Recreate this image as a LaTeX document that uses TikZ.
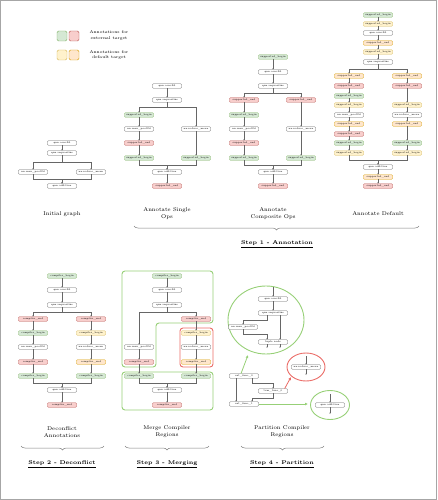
\documentclass[tikz,border=0pt]{standalone}
\usetikzlibrary{arrows.meta,decorations.pathreplacing,shapes.geometric}
\definecolor{gnf}{HTML}{D5E8D4}\definecolor{gnb}{HTML}{82B366}
\definecolor{rdf}{HTML}{F8CECC}\definecolor{rdb}{HTML}{B85450}
\definecolor{ylf}{HTML}{FFF2CC}\definecolor{ylb}{HTML}{D6B656}
\definecolor{orf}{HTML}{FFE6CC}\definecolor{orb}{HTML}{D79B00}
\definecolor{opb}{HTML}{666666}
\definecolor{rgG}{HTML}{97D077}\definecolor{rgR}{HTML}{EA6B66}
\tikzset{
 op/.style={draw=opb, fill=white, rounded corners=0.8pt, minimum width=29pt, minimum height=4.5pt, inner sep=0pt, line width=0.3pt, font=\fontsize{2.5}{2.7}\selectfont},
 gn/.style={op, draw=gnb, fill=gnf},
 rd/.style={op, draw=rdb, fill=rdf},
 yl/.style={op, draw=ylb, fill=ylf},
 og/.style={op, draw=orb, fill=orf},
 arr/.style={-{Stealth[length=1.4pt,width=1.2pt]}, line width=0.3pt, draw=black!60},
 legbox/.style={minimum width=10pt, minimum height=10pt, inner sep=0pt, rounded corners=1.5pt, line width=0.4pt},
 legtext/.style={align=center, font=\fontsize{4.1}{5.8}\selectfont},
 lab/.style={align=center, font=\fontsize{5.5}{7}\selectfont},
 steplab/.style={font=\fontsize{5.4}{7}\selectfont\bfseries},
 bracestyle/.style={decorate, decoration={brace, mirror, amplitude=4pt}, draw=black!50, line width=0.5pt},
 regG/.style={draw=rgG, line width=0.9pt, rounded corners=3pt},
 regR/.style={draw=rgR, line width=0.9pt, rounded corners=3pt},
 carrG/.style={draw=rgG, line width=0.8pt, -{Latex[length=3pt,width=3pt]}},
 carrR/.style={draw=rgR, line width=0.8pt, -{Latex[length=3pt,width=3pt]}},
}
\begin{document}
\begin{tikzpicture}[x=1pt,y=-1pt]
\useasboundingbox (0,0) rectangle (437,500);
\draw[black!35, line width=0.8pt] (0.4,0.4) rectangle (436.6,499.6);

% legend
\node[legbox, fill=gnf, draw=gnb] (lg1) at (62,36) {};
\node[legbox, fill=rdf, draw=rdb] (lg2) at (74,36) {};
\node[legbox, fill=ylf, draw=ylb] (lg3) at (62,55) {};
\node[legbox, fill=orf, draw=orb] (lg4) at (74,55) {};
\node[legtext] (lt1) at (109,35.5) {Annotations for\\external target};
\node[legtext] (lt2) at (109,55) {Annotations for\\default target};

% ---------- panel 1: initial graph
\node[op] (a1) at (62,143) {qnn.conv2d};
\node[op] (a2) at (62,153) {qnn.requantize};
\node[op] (a3) at (33,172) {nn.max\_pool2d};
\node[op] (a4) at (91,172) {nn.reduce\_mean};
\node[op] (a5) at (62,186) {qnn.addition};
\draw[arr] (a1) -- (a2);
\draw[arr] (a2.south) -- (62,162) -| (a3.north);
\draw[arr] (a2.south) -- (62,162) -| (a4.north);
\draw[arr] (a3.south) |- (62,179) -- (a5.north);
\draw[arr] (a4.south) |- (62,179) -- (a5.north);
\node[lab] (l1) at (62,214) {Initial graph};

% ---------- panel 2: single ops
\node[op] (b1) at (167,86) {qnn.conv2d};
\node[op] (b2) at (167,100) {qnn.requantize};
\node[gn] (b3) at (139,115) {supported\_begin};
\node[op] (b4) at (139,129) {nn.max\_pool2d};
\node[rd] (b5) at (139,143) {supported\_end};
\node[gn] (b6) at (139,158) {supported\_begin};
\node[op] (b7) at (196,129) {nn.reduce\_mean};
\node[gn] (b8) at (196,158) {supported\_begin};
\node[op] (b9) at (167,172) {qnn.addition};
\node[rd] (b10) at (167,186) {supported\_end};
\draw[arr] (b1) -- (b2);
\draw[arr] (b2.south) -- (167,107) -| (b3.north);
\draw[arr] (b2.south) -- (167,107) -| (b7.north);
\draw[arr] (b3) -- (b4);
\draw[arr] (b4) -- (b5);
\draw[arr] (b5) -- (b6);
\draw[arr] (b7) -- (b8);
\draw[arr] (b6.south) |- (167,165) -- (b9.north);
\draw[arr] (b8.south) |- (167,165) -- (b9.north);
\draw[arr] (b9) -- (b10);
\node[lab] (l2) at (167,214) {Annotate Single\\Ops};

% ---------- panel 3: composite ops
\node[gn] (c0) at (273,57) {supported\_begin};
\node[op] (c1) at (273,72) {qnn.conv2d};
\node[op] (c2) at (273,86) {qnn.requantize};
\node[rd] (c3) at (244,100) {supported\_end};
\node[gn] (c4) at (244,115) {supported\_begin};
\node[op] (c5) at (244,129) {nn.max\_pool2d};
\node[rd] (c6) at (244,143) {supported\_end};
\node[gn] (c7) at (244,158) {supported\_begin};
\node[rd] (c8) at (301,100) {supported\_end};
\node[op] (c9) at (301,129) {nn.reduce\_mean};
\node[gn] (c10) at (301,158) {supported\_begin};
\node[op] (c11) at (273,172) {qnn.addition};
\node[rd] (c12) at (273,186) {supported\_end};
\draw[arr] (c0) -- (c1);
\draw[arr] (c1) -- (c2);
\draw[arr] (c2.south) -- (273,93) -| (c3.north);
\draw[arr] (c2.south) -- (273,93) -| (c8.north);
\draw[arr] (c3) -- (c4);
\draw[arr] (c4) -- (c5);
\draw[arr] (c5) -- (c6);
\draw[arr] (c6) -- (c7);
\draw[arr] (c8) -- (c9);
\draw[arr] (c9) -- (c10);
\draw[arr] (c7.south) |- (273,165) -- (c11.north);
\draw[arr] (c10.south) |- (273,165) -- (c11.north);
\draw[arr] (c11) -- (c12);
\node[lab] (l3) at (273,214) {Annotate\\Composite Ops};

% ---------- panel 4: default
\node[gn] (d0) at (378,15) {supported\_begin};
\node[yl] (d1) at (378,24) {supported\_begin};
\node[op] (d2) at (378,33) {qnn.conv2d};
\node[og] (d3) at (378,43) {supported\_end};
\node[yl] (d4) at (378,52) {supported\_begin};
\node[op] (d5) at (378,62) {qnn.requantize};
\node[og] (d6) at (349,76) {supported\_end};
\node[rd] (d7) at (349,86) {supported\_end};
\node[gn] (d8) at (349,96) {supported\_begin};
\node[yl] (d9) at (349,105) {supported\_begin};
\node[op] (d10) at (349,115) {nn.max\_pool2d};
\node[og] (d11) at (349,124) {supported\_end};
\node[rd] (d12) at (349,134) {supported\_end};
\node[gn] (d13) at (349,143) {supported\_begin};
\node[yl] (d14) at (349,153) {supported\_begin};
\node[og] (d15) at (407,76) {supported\_end};
\node[rd] (d16) at (407,86) {supported\_end};
\node[yl] (d17) at (407,105) {supported\_begin};
\node[op] (d18) at (407,115) {nn.reduce\_mean};
\node[og] (d19) at (407,124) {supported\_end};
\node[gn] (d20) at (407,143) {supported\_begin};
\node[yl] (d21) at (407,153) {supported\_begin};
\node[op] (d22) at (378,167) {qnn.addition};
\node[og] (d23) at (378,177) {supported\_end};
\node[rd] (d24) at (378,186) {supported\_end};
\draw[arr] (d0) -- (d1);
\draw[arr] (d1) -- (d2);
\draw[arr] (d2) -- (d3);
\draw[arr] (d3) -- (d4);
\draw[arr] (d4) -- (d5);
\draw[arr] (d5.south) -- (378,69) -| (d6.north);
\draw[arr] (d5.south) -- (378,69) -| (d15.north);
\draw[arr] (d6) -- (d7);
\draw[arr] (d7) -- (d8);
\draw[arr] (d8) -- (d9);
\draw[arr] (d9) -- (d10);
\draw[arr] (d10) -- (d11);
\draw[arr] (d11) -- (d12);
\draw[arr] (d12) -- (d13);
\draw[arr] (d13) -- (d14);
\draw[arr] (d15) -- (d16);
\draw[arr] (d16) -- (d17);
\draw[arr] (d17) -- (d18);
\draw[arr] (d18) -- (d19);
\draw[arr] (d19) -- (d20);
\draw[arr] (d20) -- (d21);
\draw[arr] (d14.south) |- (378,160) -- (d22.north);
\draw[arr] (d21.south) |- (378,160) -- (d22.north);
\draw[arr] (d22) -- (d23);
\draw[arr] (d23) -- (d24);
\node[lab] (l4) at (378,214) {Annotate Default};

% step 1 brace
\draw[bracestyle] (134,226) -- (419,226);
\node[steplab] (s1) at (277,244) {\underline{Step 1 - Annotation}};

% ---------- step 2: deconflict
\node[gn] (e1) at (62,276) {compiler\_begin};
\node[op] (e2) at (62,290) {qnn.conv2d};
\node[op] (e3) at (62,305) {qnn.requantize};
\node[rd] (e4) at (33,319) {compiler\_end};
\node[gn] (e5) at (33,333) {compiler\_begin};
\node[op] (e6) at (33,347) {nn.max\_pool2d};
\node[rd] (e7) at (33,362) {compiler\_end};
\node[gn] (e8) at (33,376) {compiler\_begin};
\node[rd] (e9) at (91,319) {compiler\_end};
\node[yl] (e10) at (91,333) {compiler\_begin};
\node[op] (e11) at (91,347) {nn.reduce\_mean};
\node[og] (e12) at (91,362) {compiler\_end};
\node[gn] (e13) at (91,376) {compiler\_begin};
\node[op] (e14) at (62,390) {qnn.addition};
\node[rd] (e15) at (62,405) {compiler\_end};
\draw[arr] (e1) -- (e2);
\draw[arr] (e2) -- (e3);
\draw[arr] (e3.south) -- (62,312) -| (e4.north);
\draw[arr] (e3.south) -- (62,312) -| (e9.north);
\draw[arr] (e4) -- (e5);
\draw[arr] (e5) -- (e6);
\draw[arr] (e6) -- (e7);
\draw[arr] (e7) -- (e8);
\draw[arr] (e9) -- (e10);
\draw[arr] (e10) -- (e11);
\draw[arr] (e11) -- (e12);
\draw[arr] (e12) -- (e13);
\draw[arr] (e8.south) |- (62,383) -- (e14.north);
\draw[arr] (e13.south) |- (62,383) -- (e14.north);
\draw[arr] (e14) -- (e15);
\node[lab] (l5) at (62,432) {Deconflict\\Annotations};
\draw[bracestyle] (21,446) -- (104,446);
\node[steplab] (s2) at (62,464) {\underline{Step 2 - Deconflict}};

% ---------- step 3: merging
\draw[regG] (122,271) -- (213,271) -- (213,323) -- (156,323) -- (156,367) -- (122,367) -- cycle;
\draw[regR] (180,328) rectangle (213,367);
\draw[regG] (122,372) rectangle (213,410);
\node[gn] (f1) at (167,276) {compiler\_begin};
\node[op] (f2) at (167,290) {qnn.conv2d};
\node[op] (f3) at (167,305) {qnn.requantize};
\node[op] (f4) at (139,347) {nn.max\_pool2d};
\node[rd] (f5) at (139,362) {compiler\_end};
\node[gn] (f6) at (139,376) {compiler\_begin};
\node[rd] (f7) at (196,319) {compiler\_end};
\node[yl] (f8) at (196,333) {compiler\_begin};
\node[op] (f9) at (196,347) {nn.reduce\_mean};
\node[og] (f10) at (196,362) {compiler\_end};
\node[gn] (f11) at (196,376) {compiler\_begin};
\node[op] (f12) at (167,390) {qnn.addition};
\node[rd] (f13) at (167,405) {compiler\_end};
\draw[arr] (f1) -- (f2);
\draw[arr] (f2) -- (f3);
\draw[arr] (f3.south) -- (167,312) -| (f4.north);
\draw[arr] (f3.south) -- (167,312) -| (f7.north);
\draw[arr] (f4) -- (f5);
\draw[arr] (f5) -- (f6);
\draw[arr] (f7) -- (f8);
\draw[arr] (f8) -- (f9);
\draw[arr] (f9) -- (f10);
\draw[arr] (f10) -- (f11);
\draw[arr] (f6.south) |- (167,383) -- (f12.north);
\draw[arr] (f11.south) |- (167,383) -- (f12.north);
\draw[arr] (f12) -- (f13);
\node[lab] (l6) at (167,432) {Merge Compiler\\Regions};
\draw[bracestyle] (125,446) -- (209,446);
\node[steplab] (s3) at (167,464) {\underline{Step 3 - Merging}};

% ---------- step 4: partition
\node[draw=rgG, line width=0.9pt, ellipse, minimum width=76pt, minimum height=68pt] (cg1) at (266,320) {};
\node[draw=rgR, line width=0.9pt, ellipse, minimum width=38pt, minimum height=28pt] (cr1) at (306,367) {};
\node[draw=rgG, line width=0.9pt, ellipse, minimum width=39pt, minimum height=29pt] (cg2) at (330,405) {};
\coordinate (gin) at (273,287);
\node[op] (g1) at (273,299) {qnn.conv2d};
\node[op] (g2) at (273,313) {qnn.requantize};
\node[op] (g3) at (243,327) {nn.max\_pool2d};
\node[op] (g4) at (273,342) {tuple node};
\coordinate (go1) at (267,348);
\coordinate (go2) at (280,348);
\draw[arr] (gin) -- (g1);
\draw[arr] (g1) -- (g2);
\draw[arr] ([xshift=-6pt]g2.south) -- (267,320) -| (g3.north);
\draw[arr] ([xshift=7pt]g2.south) -- ([xshift=7pt]g4.north);
\draw[arr] (g3.south) -- (243,334) -| ([xshift=-6pt]g4.north);
\draw[arr] ([xshift=-6pt]g4.south) -- (go1);
\draw[arr] ([xshift=7pt]g4.south) -- (go2);
\coordinate (hin) at (306,356);
\node[op] (h1) at (306,367) {nn.reduce\_mean};
\coordinate (hout) at (306,375);
\draw[arr] (hin) -- (h1);
\draw[arr] (h1) -- (hout);
\coordinate (kin) at (330,394);
\node[op] (k1) at (330,405) {qnn.addition};
\coordinate (kout) at (330,414);
\draw[arr] (kin) -- (k1);
\draw[arr] (k1) -- (kout);
\node[op] (m1) at (244,376) {ext\_func\_0};
\node[op] (m2) at (273,391) {tvm\_func\_0};
\node[op] (m3) at (244,404) {ext\_func\_1};
\draw[arr] ([xshift=-8pt]m1.south) -- ([xshift=-8pt]m3.north);
\draw[arr] ([xshift=8pt]m1.south) -- (252,383) -| (m2.north);
\draw[arr] (m2.south) -- (273,398) -| ([xshift=8pt]m3.north);
\coordinate (pa1) at (248,355);
\coordinate (pa2) at (291,377);
\coordinate (pa3) at (308,404);
\draw[carrG] ([xshift=-3pt]m1.north) -- (pa1);
\draw[carrR] ([xshift=-3pt]m2.north east) -- (pa2);
\draw[carrG] (m3.east) -- (pa3);
\node[lab] (l7) at (282,432) {Partition Compiler\\Regions};
\draw[bracestyle] (241,446) -- (324,446);
\node[steplab] (s4) at (282,464) {\underline{Step 4 - Partition}};
\end{tikzpicture}
\end{document}
